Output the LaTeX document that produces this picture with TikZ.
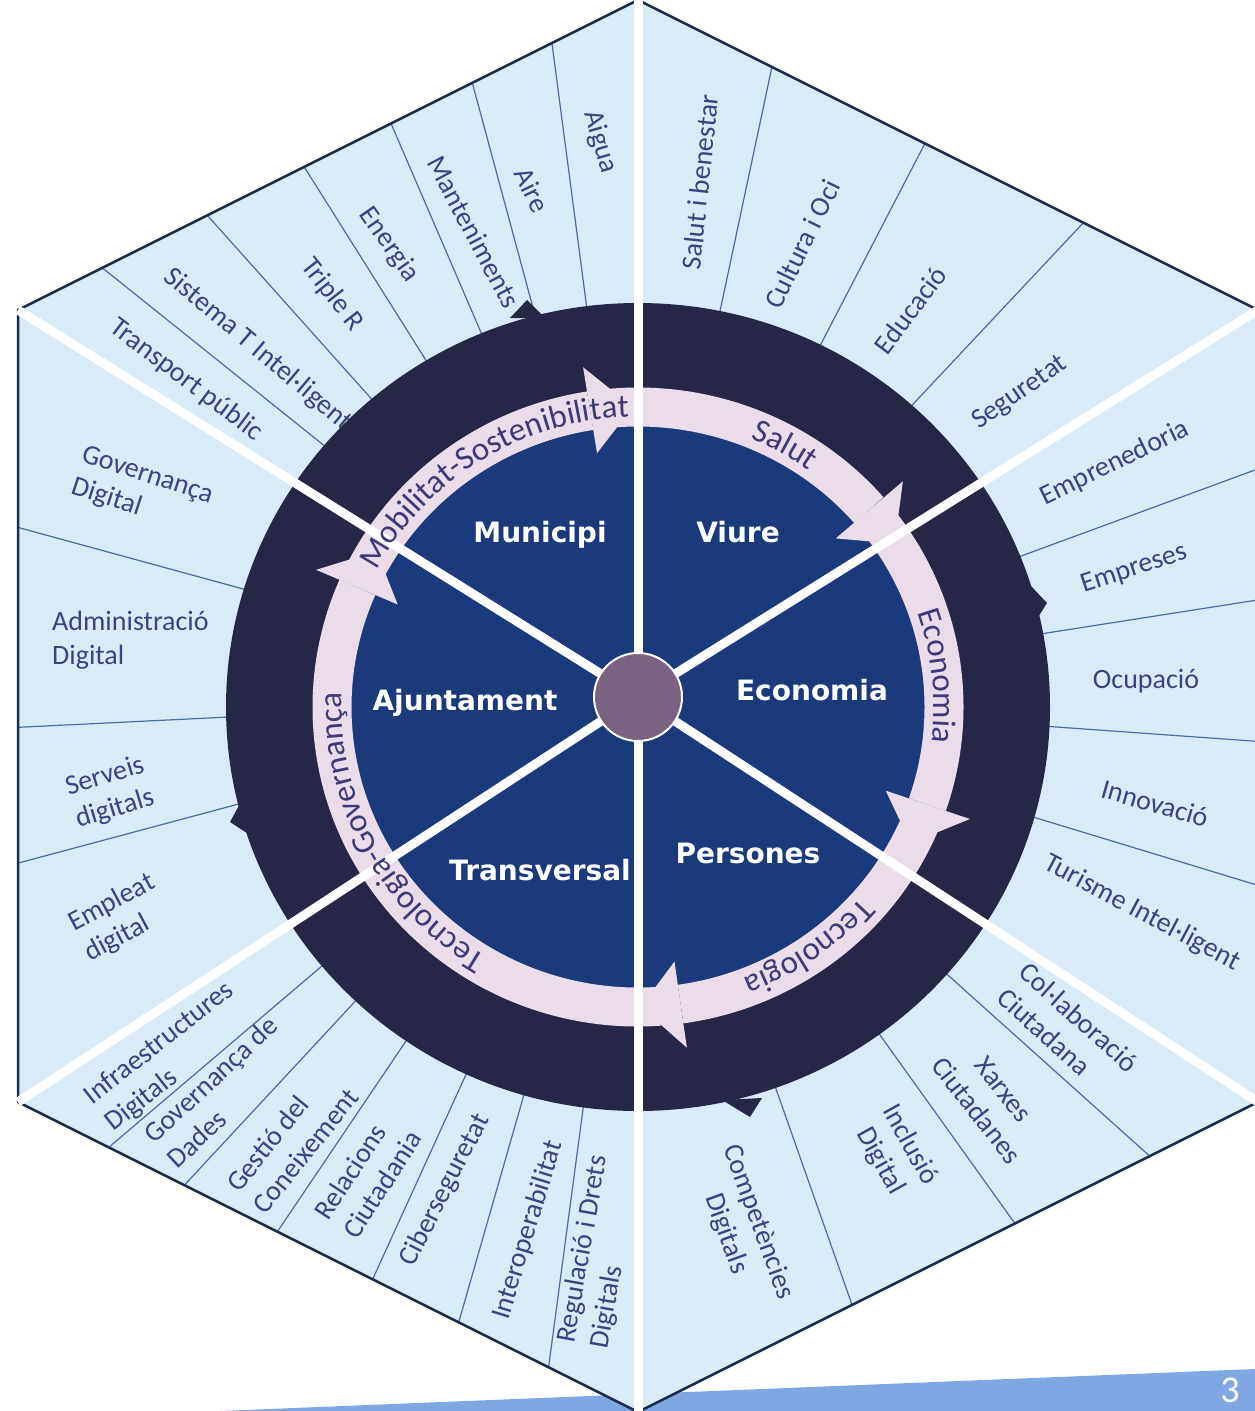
\documentclass[tikz,border=0pt]{standalone}
\usepackage{fontspec}
\setmainfont{Carlito}
\newfontfamily\hubfont{DejaVu Sans}
\usetikzlibrary{decorations.text}
\definecolor{hexfill}{HTML}{DAEBF8}
\definecolor{hexline}{HTML}{1F2D4D}
\definecolor{sepline}{HTML}{4A6BA3}
\definecolor{ringdark}{HTML}{262746}
\definecolor{diskblue}{HTML}{1B3A7C}
\definecolor{arcpink}{HTML}{EBDCEA}
\definecolor{hubpurple}{HTML}{7A6380}
\definecolor{labeltext}{HTML}{384482}
\definecolor{arctext}{HTML}{3C3B78}
\definecolor{bannerblue}{HTML}{7FA7E3}
\newcommand{\arcsize}{\fontsize{33}{38}\selectfont}
\tikzset{
  sector/.style={font=\fontsize{28}{34}\selectfont, text=labeltext, align=left, inner sep=0pt},
  sectorc/.style={sector, align=center},
  hubtext/.style={font=\hubfont\bfseries\fontsize{28}{32}\selectfont, text=white},
  spoke/.style={white, line width=9pt},
  divider/.style={sepline, line width=1.2pt},
  arclabel/.style={decorate, decoration={text along path, text align=center, text color=arctext, text={|\arcsize|#1}}}
}
\begin{document}
\begin{tikzpicture}[x=1pt,y=1pt]
\useasboundingbox (0,0) rectangle (1255,-1411);
\clip (0,0) rectangle (1255,-1411);
\fill[bannerblue] (220,-1411) -- (1255,-1369) -- (1255,-1411) -- cycle;
\node[font=\fontsize{38}{40}\selectfont, text=white] (page) at (1230,-1390) {3};
\coordinate (hub) at (638,-697);
\coordinate (ring) at (638,-707);
\path (638,0) coordinate (vt) (18,-310) coordinate (vtl) (18,-1102) coordinate (vbl)
  (638,-1412) coordinate (vb) (1258,-1102) coordinate (vbr) (1258,-310) coordinate (vtr);
\fill[hexfill] (vt) -- (vtl) -- (vbl) -- (vb) -- (vbr) -- (vtr) -- cycle;
\begin{scope}
\clip (vt) -- (vtl) -- (vbl) -- (vb) -- (vbr) -- (vtr) -- cycle;
\foreach \a in {97.5,105.1,113.3,122.2,131.8,141.3,78,62.6,46.8,20.2,8.9,-4.1,-16.9,
  -41.9,-54.4,-70.6,-97.6,-106,-114.5,-124,-132.9,-139.6,164.7,182.8,195}
  \draw[divider] (hub) -- ++(\a:900);
\end{scope}
\draw[hexline, line width=2.5pt] (vt) -- (vtl) -- (vbl) -- (vb) -- (vbr) -- (vtr) -- cycle;

\node[sector, rotate=-74] (aigua) at (600,-142) {Aigua};
\node[sector, rotate=-64] (aire) at (532,-190) {Aire};
\node[sector, rotate=-62] (mant) at (474,-232) {Manteniments};
\node[sector, rotate=-55] (energia) at (389,-245) {Energia};
\node[sector, rotate=-52] (triple) at (332,-295) {Triple R};
\node[sector, rotate=-40] (sistema) at (258,-350) {Sistema T Intel·ligent};
\node[sector, rotate=-37] (transp) at (186,-380) {Transport públic};
\node[sector, rotate=84] (salut) at (700,-182) {Salut i benestar};
\node[sector, rotate=64] (cultura) at (802,-244) {Cultura i Oci};
\node[sector, rotate=53] (educ) at (910,-310) {Educació};
\node[sector, rotate=35] (segur) at (1020,-393) {Seguretat};
\node[sector, rotate=26] (empren) at (1115,-463) {Emprenedoria};
\node[sector, rotate=18] (empres) at (1134,-569) {Empreses};
\node[sector] (ocup) at (1146,-681) {Ocupació};
\node[sector, rotate=-16] (innov) at (1155,-803) {Innovació};
\node[sector, rotate=-28] (turisme) at (1142,-913) {Turisme Intel·ligent};
\node[sector, rotate=-42] (colab) at (1068,-1030) {Col·laboració\\Ciutadana};
\node[sectorc, rotate=-52] (xarxes) at (990,-1100) {Xarxes\\Ciutadanes};
\node[sectorc, rotate=-61] (inclus) at (895,-1153) {Inclusió\\Digital};
\node[sectorc, rotate=-70] (compet) at (742,-1228) {Competències\\Digitals};
\node[sector, rotate=80] (regul) at (600,-1252) {Regulació i Drets\\Digitals};
\node[sector, rotate=73] (interop) at (528,-1230) {Interoperabilitat};
\node[sector, rotate=63] (ciber) at (445,-1190) {Ciberseguretat};
\node[sector, rotate=57] (relac) at (368,-1175) {Relacions\\Ciutadania};
\node[sector, rotate=51] (gestio) at (292,-1140) {Gestió del\\Coneixement};
\node[sector, rotate=43] (govdad) at (222,-1092) {Governança de\\Dades};
\node[sector, rotate=38] (infra) at (170,-1057) {Infraestructures\\Digitals};
\node[sector, rotate=28] (empleat) at (120,-918) {Empleat\\digital};
\node[sector, rotate=17] (serveis) at (110,-793) {Serveis\\digitals};
\node[sector, anchor=west] (admin) at (52,-640) {Administració\\Digital};
\node[sector, rotate=-18] (govdig) at (142,-492) {Governança\\Digital};

\begin{scope}[shift={(ring)}]
\fill[ringdark] (0,0) ellipse [x radius=412, y radius=404];
\fill[diskblue] (0,0) ellipse [x radius=287, y radius=281];
\foreach \s/\e in {153/99, 95/41, 37/-19, -23/-82, -86/-203.5}
  \draw[arcpink, line width=39pt] (\s:306 and 300) arc[start angle=\s, end angle=\e, x radius=306, y radius=300];
\foreach \b/\t in {99/91, 41/33, -19/-27, -82/-89.5, -203.5/-211.3}
  \fill[arcpink] (\b:351 and 344) -- (\t:306 and 300) -- (\b:262 and 257) -- cycle;
\end{scope}
\fill[ringdark] (510,-318) -- (527,-300) -- (545,-318) -- cycle;
\fill[ringdark] (1030,-585) -- (1047,-603) -- (1035,-622) -- cycle;
\fill[ringdark] (722,-1100) -- (750,-1117) -- (762,-1098) -- cycle;
\fill[ringdark] (242,-800) -- (230,-822) -- (250,-835) -- cycle;

\foreach \v in {vt,vtl,vbl,vb,vbr,vtr} \draw[spoke] (hub) -- (\v);

\begin{scope}[shift={(ring)}]
\path[arclabel=Mobilitat-Sostenibilitat] (162:296 and 290) arc[start angle=162, end angle=82, x radius=296, y radius=290];
\path[arclabel=Salut] (101:296 and 290) arc[start angle=101, end angle=21, x radius=296, y radius=290];
\path[arclabel=Economia] (46:296 and 290) arc[start angle=46, end angle=-34, x radius=296, y radius=290];
\path[arclabel=Tecnologia] (-15:296 and 290) arc[start angle=-15, end angle=-95, x radius=296, y radius=290];
\path[arclabel=Tecnologia-Governança] (-92:296 and 290) arc[start angle=-92, end angle=-212, x radius=296, y radius=290];
\end{scope}

\filldraw[fill=hubpurple, draw=white, line width=2pt] (hub) circle[radius=44];
\node[hubtext] (municipi) at (540,-535) {Municipi};
\node[hubtext] (viure) at (738,-532) {Viure};
\node[hubtext] (ajunt) at (465,-703) {Ajuntament};
\node[hubtext] (econ) at (812,-690) {Economia};
\node[hubtext] (transv) at (540,-870) {Transversal};
\node[hubtext] (persones) at (748,-853) {Persones};
\end{tikzpicture}
\end{document}
